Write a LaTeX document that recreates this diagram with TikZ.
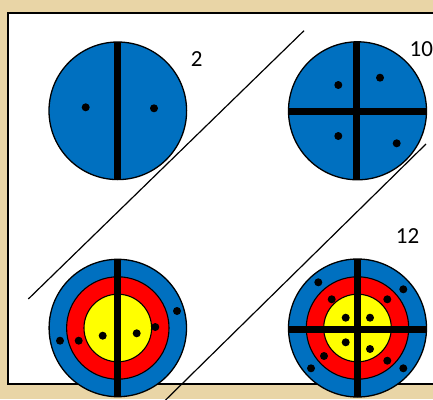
\documentclass[tikz,border=0pt]{standalone}
\usepackage{fontspec}
\setmainfont{Carlito}
\definecolor{parch}{RGB}{233,213,166}
\definecolor{tblue}{RGB}{0,112,192}
\definecolor{tred}{RGB}{255,0,0}
\definecolor{tyellow}{RGB}{255,255,0}
\begin{document}
\begin{tikzpicture}[x=1pt,y=-1pt,
  outline/.style={draw=black,line width=1.3pt},
  hole/.style={fill=black},
  diag/.style={draw=black,line width=1.2pt},
  lbl/.style={font=\fontsize{23}{27}\selectfont, inner sep=0pt}]
\useasboundingbox (0,0) rectangle (433,399);
\clip (0,0) rectangle (433,399);
\fill[parch] (0,0) rectangle (433,399);
\draw[fill=white,line width=2pt] (8,13) rectangle (445,384);

% diagonal lines
\coordinate (l1a) at (304,30.7);
\coordinate (l1b) at (28.3,299);
\coordinate (l2a) at (426,144);
\coordinate (l2b) at (160,405.5);
\draw[diag] (l1a) -- (l1b);
\draw[diag] (l2a) -- (l2b);

% target 1: top-left, two halves
\coordinate (t1) at (117.8,110.8);
\fill[tblue] (t1) circle (68.8);
\begin{scope}
  \clip (t1) circle (68.8);
  \fill[black] (114.2,30) rectangle (120.8,190);
\end{scope}
\draw[outline] (t1) circle (68.8);
\fill[hole] (85.7,107.3) circle (4);
\fill[hole] (154,108.3) circle (4);

% target 2: top-right, quarters
\coordinate (t2) at (357.5,110.8);
\fill[tblue] (t2) circle (69);
\begin{scope}
  \clip (t2) circle (69);
  \fill[black] (353.4,30) rectangle (360,190);
  \fill[black] (280,108.4) rectangle (440,115);
\end{scope}
\draw[outline] (t2) circle (69);
\fill[hole] (338.3,85) circle (4);
\fill[hole] (380,77.7) circle (4);
\fill[hole] (338.3,136) circle (4);
\fill[hole] (396.7,143.3) circle (4);

% target 3: bottom-left, rings, two halves
\coordinate (t3) at (117.8,328);
\fill[tblue] (t3) circle (68.7);
\fill[tred] (t3) circle (51.2);
\fill[tyellow] (t3) circle (33.8);
\draw[black,line width=1.1pt] (t3) circle (51.2);
\draw[black,line width=1.1pt] (t3) circle (33.8);
\begin{scope}
  \clip (t3) circle (68.7);
  \fill[black] (114.3,250) rectangle (120.5,410);
\end{scope}
\draw[outline] (t3) circle (68.7);
\fill[hole] (60,340.7) circle (4);
\fill[hole] (78.7,340.7) circle (4);
\fill[hole] (102.7,335.7) circle (4);
\fill[hole] (136.7,333.3) circle (4);
\fill[hole] (155.3,327) circle (4);
\fill[hole] (177,311) circle (4);

% target 4: bottom-right, rings, quarters
\coordinate (t4) at (357.5,328);
\fill[tblue] (t4) circle (69);
\fill[tred] (t4) circle (51.2);
\fill[tyellow] (t4) circle (33.8);
\draw[black,line width=1.1pt] (t4) circle (51.2);
\draw[black,line width=1.1pt] (t4) circle (33.8);
\begin{scope}
  \clip (t4) circle (69);
  \fill[black] (354,250) rectangle (360.6,410);
  \fill[black] (280,326) rectangle (440,332.6);
\end{scope}
\draw[outline] (t4) circle (69);
\fill[hole] (318.3,282.3) circle (4);
\fill[hole] (403.3,289.3) circle (4);
\fill[hole] (331.7,299.3) circle (4);
\fill[hole] (387.3,299.3) circle (4);
\fill[hole] (345.7,317.7) circle (4);
\fill[hole] (370,317.7) circle (4);
\fill[hole] (345.7,342.3) circle (4);
\fill[hole] (370,349) circle (4);
\fill[hole] (324,356) circle (4);
\fill[hole] (387.3,360.7) circle (4);
\fill[hole] (311,368.3) circle (4);
\fill[hole] (403.3,368.3) circle (4);

% labels
\node[lbl] (n2) at (196.7,58.7) {2};
\node[lbl,anchor=west] (n10) at (409.5,49.5) {10};
\node[lbl] (n12) at (407.5,235.7) {12};
\end{tikzpicture}
\end{document}
